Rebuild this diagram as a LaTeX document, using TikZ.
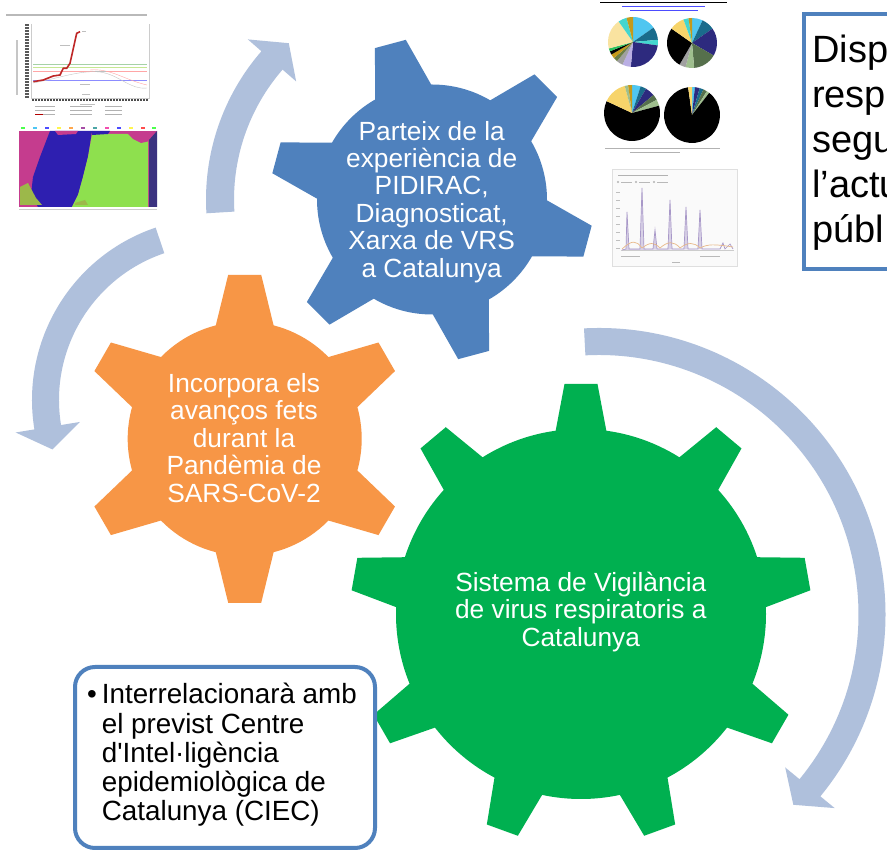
\documentclass[tikz,border=0pt]{standalone}
\usepackage{fontspec}
\setmainfont{Liberation Sans}
\definecolor{gGreen}{HTML}{00B050}
\definecolor{gOrange}{HTML}{F79646}
\definecolor{gBlue}{HTML}{4F81BD}
\definecolor{arrowC}{HTML}{AFC0DC}
\definecolor{boxBlue}{HTML}{4F81BD}
\definecolor{mag}{HTML}{C53C8E}
\definecolor{blk}{HTML}{2E1FB0}
\definecolor{lgr}{HTML}{8EE04E}
\definecolor{nav}{HTML}{3B3380}
\definecolor{oli}{HTML}{9CB84A}
\definecolor{pLB}{HTML}{4FC6F0}
\definecolor{pTeal}{HTML}{1A6C8C}
\definecolor{pNavy}{HTML}{2D2A7E}
\definecolor{pLav}{HTML}{B9AEE3}
\definecolor{pOlive}{HTML}{6B7F45}
\definecolor{pBeige}{HTML}{F9E3A0}
\definecolor{pTurq}{HTML}{44D6CF}
\definecolor{pGold}{HTML}{C49A1A}
\definecolor{pSage}{HTML}{9FBF8E}
\definecolor{pGreen}{HTML}{2BBF5F}
\definecolor{pGray}{HTML}{A0A0A0}
\definecolor{pDkOl}{HTML}{56704C}
\definecolor{pYel}{HTML}{F7D46A}
\definecolor{peakC}{HTML}{A898C8}
\definecolor{tanC}{HTML}{E8B98A}
\tikzset{
  geartext/.style={text=white, align=center, inner sep=0pt, font=\fontsize{26.3}{27.4}\selectfont},
  txtbar/.style={gray!60, line width=1pt},
  arrowshape/.style={fill=arrowC, draw=none}
}
\begin{document}
\begin{tikzpicture}[x=1pt,y=1pt]
\useasboundingbox (0,0) rectangle (887,865);
\fill[white] (0,0) rectangle (887,865);

% ---------- thumbnails (pixel coordinates, y down) ----------
\begin{scope}[shift={(0,865)}, yscale=-1]
  % top-left line chart
  \draw[gray!55, line width=1.3pt] (6,15) -- (147,15);
  \foreach \y in {25,28,...,97} \fill[gray!70!black] (25,\y-0.6) rectangle (29,\y+0.6);
  \fill[gray!45] (16,40) rectangle (18,95);
  \draw[gray!40] (31,24) -- (31,98) -- (149,98) -- (149,24);
  \foreach \x in {33,36,...,147} \fill[gray!60!black] (\x-0.8,99.5) rectangle (\x+0.8,101.5);
  \draw[gray!50, line width=0.8pt] (80,104) -- (95,104);
  \foreach \y in {107,111,115} {
    \draw[txtbar] (35,\y) -- (55,\y);
    \draw[txtbar] (70,\y) -- (92,\y);
    \draw[txtbar] (105,\y) -- (122,\y);
  }
  \draw[red!70!black, line width=1pt] (35,115) -- (43,115);
  \draw[green!50!black!35, line width=0.8pt] (33,64.5) -- (147,64.5);
  \draw[yellow!50!green!45, line width=0.8pt] (33,67) -- (147,67);
  \draw[red!35, line width=0.8pt] (33,71.7) -- (147,71.7);
  \draw[blue!45, line width=0.8pt] (33,80) -- (147,80);
  \draw[gray!45] (33,83) .. controls (60,78) and (80,70) .. (100,72) .. controls (120,75) and (130,90) .. (147,88);
  \draw[red!35] (90,70) .. controls (110,68) and (125,80) .. (147,85);
  \draw[gray!50, line width=0.8pt] (60,45) -- (70,45);
  \draw[gray!50, line width=0.8pt] (95,71) -- (106,71);
  \draw[gray!50, line width=0.8pt] (80,84) -- (90,84);
  \draw[gray!50, line width=0.8pt] (82,94) -- (90,94);
  \draw[red!70!black!85, line width=1.6pt] (33.3,81.7) -- (43.3,80) -- (53.3,76) -- (60,75) -- (63.3,68.3) -- (66.7,68.3) -- (70,63.3) -- (76.7,33.3) -- (80,31.7);
  \draw[gray!50, line width=0.8pt] (82,31) -- (86,31);
  % block image
  \foreach \x/\c in {21/green,33/cyan,45/blue,57/yellow,69/orange,81/violet,93/teal,105/magenta,117/blue,129/yellow,141/red,152/green}
    \fill[\c!70] (\x,127.5) rectangle (\x+4,129);
  \fill[mag] (19,131) rectangle (157,207);
  \fill[blk] (50,131) -- (92,131) -- (88,157) -- (83,177) -- (78,195) -- (72,207) -- (38,207) -- (31,195) -- (33,177) -- (40,157) -- cycle;
  \fill[lgr] (92,134) -- (148,134) -- (148,207) -- (72,207) -- (78,195) -- (83,177) -- (88,157) -- cycle;
  \fill[mag] (127,133) -- (150,133) -- (150,141) -- (141,143) -- (133,139) -- cycle;
  \fill[blk] (92,131) -- (110,131) -- (108,134) -- (92,135) -- cycle;
  \fill[mag] (55,131) -- (78,131) -- (76,134) -- (58,135) -- cycle;
  \fill[nav] (149,140) -- (157,131) -- (157,207) -- (149,207) -- cycle;
  \fill[oli] (20,187) -- (28,183) -- (36,198) -- (42,205) -- (20,205) -- cycle;
  \fill[oli] (75,203) -- (85,200) -- (88,205) -- (75,205) -- cycle;
  \draw[gray!40, line width=1pt] (19,210) -- (157,210);

  % top-right pies figure
  \draw[black, line width=0.8pt] (600,2) -- (727,2);
  \draw[blue!70, line width=0.9pt] (622,6) -- (705,6);
  \draw[blue!70, line width=0.9pt] (630,10) -- (698,10);
  \foreach \s/\e/\c in {-90/-35/pLB,-35/-5/pTeal,-5/8/pTurq,8/95/pNavy,95/115/pLav,115/130/pGray,130/140/pOlive,140/150/pGold,150/158/black,158/165/pGreen,165/235/pBeige,235/255/pTurq,255/270/pGold}
    \fill[\c] (633,42) -- ++(\s:25) arc[start angle=\s, end angle=\e, radius=25] -- cycle;
  \foreach \s/\e/\c in {-90/-65/pLB,-65/-35/pTeal,-35/30/pNavy,30/85/pDkOl,85/105/pSage,105/120/pGray,120/215/black,215/250/pYel,250/262/pTurq,262/270/pGold}
    \fill[\c] (692,43) -- ++(\s:25) arc[start angle=\s, end angle=\e, radius=25] -- cycle;
  \foreach \s/\e/\c in {-90/-72/pLB,-72/-60/pTeal,-60/-40/pNavy,-40/-28/pDkOl,-28/-15/pSage,-15/205/black,205/255/pYel,255/262/pSage,262/270/pGold}
    \fill[\c] (632,113) -- ++(\s:28) arc[start angle=\s, end angle=\e, radius=28] -- cycle;
  \foreach \s/\e/\c in {-90/-84/pLB,-84/-74/pNavy,-74/-66/pTeal,-66/-58/pDkOl,-58/-52/pSage,-52/262/black,262/270/pYel}
    \fill[\c] (692,115) -- ++(\s:28) arc[start angle=\s, end angle=\e, radius=28] -- cycle;
  \draw[gray!60, line width=0.8pt] (605,148) -- (720,148);
  \draw[gray!60, line width=0.8pt] (630,152) -- (680,152);

  % line chart
  \draw[gray!25, fill=gray!4] (612,169) rectangle (737,266);
  \draw[gray!60, line width=0.9pt] (618,175) -- (668,175);
  \foreach \x in {618,636,654} {
    \fill[gray!60] (\x,182) circle[radius=1.2];
    \draw[gray!55, line width=0.8pt] (\x+3,182) -- (\x+14,182);
  }
  \foreach \y in {192,200,...,248} \draw[gray!50, line width=0.6pt] (616,\y) -- (620,\y);
  \draw[gray!40] (621,250) -- (734,250);
  \fill[peakC!45] (622,250) -- (626,249) -- (627,212) -- (629,249) -- (640,249) -- (642,188) -- (644,249) -- (653,249) -- (655,230) -- (657,249) -- (668,249) -- (670,200) -- (672,249) -- (684,249) -- (686,207) -- (688,249) -- (698,249) -- (700,210) -- (702,249) -- (720,249) -- cycle;
  \draw[peakC, line width=0.7pt] (622,250) -- (626,249) -- (627,212) -- (629,249) -- (640,249) -- (642,188) -- (644,249) -- (653,249) -- (655,230) -- (657,249) -- (668,249) -- (670,200) -- (672,249) -- (684,249) -- (686,207) -- (688,249) -- (698,249) -- (700,210) -- (702,249) -- (720,249) -- (723,243) -- (725,249) -- (730,244) -- (733,249);
  \draw[tanC, line width=0.7pt] (622,249) .. controls (632,240) and (636,240) .. (642,248) .. controls (650,242) and (654,242) .. (660,248) .. controls (668,241) and (674,241) .. (680,248) .. controls (688,242) and (694,242) .. (700,248) .. controls (708,244) and (714,244) .. (733,247);
  \draw[gray!55, line width=0.8pt] (621,256) -- (640,256);
  \draw[gray!55, line width=0.8pt] (700,256) -- (720,256);
  \draw[gray!55, line width=0.8pt] (672,262) -- (680,262);
\end{scope}

% ---------- circular arrows ----------
\begin{scope}[shift={(599,250.5)}]
  \fill[arrowshape] (93:286.5) arc[start angle=93, end angle=-39.4, radius=286.5] -- (-39.4:305) -- (-44.4:272) -- (-39.4:241) -- (-39.4:259.5) arc[start angle=-39.4, end angle=93, radius=259.5] -- cycle;
\end{scope}
\begin{scope}[shift={(214,465)}]
  \fill[arrowshape] (108.7:182) arc[start angle=108.7, end angle=189.3, radius=182] -- (189.3:201) -- (197:169) -- (189.3:136) -- (189.3:155) arc[start angle=189.3, end angle=108.7, radius=155] -- cycle;
\end{scope}
\begin{scope}[shift={(432,665.5)}]
  \fill[arrowshape] (183.5:226) arc[start angle=183.5, end angle=139, radius=226] -- (139:244) -- (132.5:212) -- (139:180) -- (139:198) arc[start angle=139, end angle=183.5, radius=198] -- cycle;
\end{scope}

% ---------- gears ----------
\begin{scope}[shift={(581,251)}]
  \fill[gGreen] (0,0) circle[radius=185];
  \foreach \a in {90,130,...,410}
    \fill[gGreen, rotate=\a] (165,-28.8) -- (230,-16.5) -- (230,16.5) -- (165,28.8) -- cycle;
\end{scope}
\begin{scope}[shift={(244.7,426.2)}]
  \fill[gOrange] (0,0) circle[radius=117];
  \foreach \a in {90,150,...,390}
    \fill[gOrange, rotate=\a] (100,-32.2) -- (164,-16.5) -- (164,16.5) -- (100,32.2) -- cycle;
\end{scope}
\begin{scope}[shift={(432,665.5)}]
  \fill[gBlue] (0,0) circle[radius=115];
  \foreach \a in {105,165,...,405}
    \fill[gBlue, rotate=\a] (98,-32.4) -- (161,-16) -- (161,16) -- (98,32.4) -- cycle;
\end{scope}

\node[geartext] (tblue) at (431.7,663.2) {Parteix de la\\experiència de\\PIDIRAC,\\Diagnosticat,\\Xarxa de VRS\\a Catalunya};
\node[geartext] (torange) at (244,427) {Incorpora els\\avanços fets\\durant la\\Pandèmia de\\SARS-CoV-2};
\node[geartext] (tgreen) at (580.8,253) {Sistema de Vigilància\\de virus respiratoris a\\Catalunya};

% ---------- boxes ----------
\begin{scope}
  \clip (0,0) rectangle (887,865);
  \draw[boxBlue, line width=4pt, fill=white] (804,596) rectangle (900,851);
  \node[anchor=north west, inner sep=0pt, align=left, font=\fontsize{38}{45}\selectfont] (disp) at (812,830.2) {Disp\\resp\\segu\\l’actu\\públ};
\end{scope}

\draw[boxBlue, line width=4pt, fill=white, rounded corners=20pt] (75,17) rectangle (375,198);
\node[anchor=north west, inner sep=0pt, align=left, font=\fontsize{27.8}{29.2}\selectfont] (ciec) at (101.7,181.7)
  {\llap{•\hspace{5pt}}Interrelacionarà amb\\el previst Centre\\d\textquotesingle Intel·ligència\\epidemiològica de\\Catalunya (CIEC)};
\end{tikzpicture}
\end{document}
